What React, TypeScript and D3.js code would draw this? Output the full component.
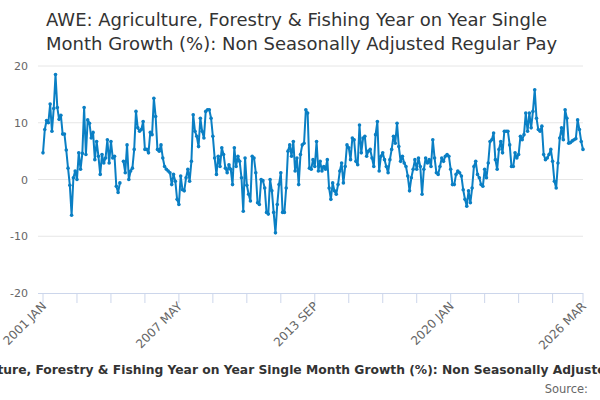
import { useEffect, useRef } from "react";
import * as d3 from "d3";

// Monthly values, Jan 2001 .. Mar 2026 (null = missing month)
const values2001_2004: (number | null)[] = [
  4.7, 8.8, 10.4, 10.0, 13.3, 8.5, 12.5, 18.5, 12.7, 10.6,
  11.3, 8.0, 8.0, 5.2, 2.0, -1.0, -6.3, 0.3, 1.5, 0.0,
  4.7, 1.8, 4.6, 12.7, 4.4, 10.5, 9.9, 7.3, 8.3, 3.5,
  6.7, 4.1, 0.9, 4.4, 2.9, 3.8, 7.0, 2.9,
];
const values2004_2007: (number | null)[] = [
  6.7, 3.8, 4.1, -1.2, -2.3, -0.6, null, 3.2, 1.2, 6.1,
  0.0, 1.5, 2.0, 5.3, 12.0, 9.1, 8.5, 8.8, 10.2, 5.3,
  5.3, 4.7, 8.3, 7.9, 14.3, 11.1, 5.3, 5.0, 6.1, 3.8,
  2.3, 1.8, 1.5, 1.2, -0.9, 0.9, -0.3, -3.5,
];
const values2007_2010: (number | null)[] = [
  -4.4, 0.6, -1.8, -2.0, 0.3, 1.8, -0.3, 3.2, 11.4, 8.5,
  7.6, 5.8, 10.8, 8.5, 7.3, 12.0, 12.3, 12.3, 10.8, 7.6,
  3.8, 0.9, 4.1, 2.3, 5.6, 4.4, 2.0, 1.2, 2.6, 1.8,
  -0.9, 5.6, 2.3, 4.1, 3.2, 0.3, -5.6, 3.8,
];
const values2010_2013: (number | null)[] = [
  -1.0, -2.6, -3.8, 4.1, 3.8, 1.2, -4.1, -4.4, 0.0, -0.2,
  -1.5, -5.8, -6.1, 0.0, -2.0, -5.8, -9.4, -4.4, -0.9, 1.2,
  -5.8, -5.8, -1.5, 5.0, 6.1, 4.1, 6.7, 1.5, 3.8, -0.9,
  4.4, 6.1, 6.4, 12.3, 11.7, 2.0, 1.8, 3.5,
];
const values2013_2016: (number | null)[] = [
  2.3, 6.7, 1.5, 3.2, 1.5, 2.3, 1.8, 3.5, -1.5, -3.5,
  -0.6, -2.0, -2.6, -0.9, 1.5, 2.9, -0.6, 2.3, 6.1, 5.6,
  3.5, 7.3, 7.0, 3.2, 2.6, 9.6, 4.7, 7.3, 7.6, 4.1,
  5.0, 5.3, 3.8, 2.3, 7.9, 10.2, 1.5,
];
const values2016_2019: (number | null)[] = [
  4.1, 4.7, 3.5, 2.3, 1.2, 3.5, 5.3, 7.6, 6.4, 9.9,
  5.8, 3.2, 4.1, 2.9, 2.3, 0.6, -2.0, 0.3, 1.8, 3.5,
  1.8, 3.8, 2.3, -2.6, 1.8, 3.8, 2.9, 3.5, 2.3, 7.0,
  3.8, 1.2, 0.9, 2.3, 3.8, 3.2, 4.1, 4.4,
];
const values2019_2023: (number | null)[] = [
  4.1, 1.8, -0.9, -0.9, 0.9, 1.5, 1.2, 0.6, -1.8, -3.5,
  -4.7, -2.0, -4.1, -1.5, 2.3, 3.2, 0.9, 0.3, -0.9, -1.2,
  1.8, 0.3, 2.9, 6.7, 7.0, 8.2, 3.5, 1.8, 5.3, 6.7,
  4.7, 8.5, 8.5, 8.5, 6.1, 2.3, 2.3, 4.7,
];
const values2023_2026: (number | null)[] = [
  3.8, 4.4, 7.6, 7.0, 7.9, 11.7, 8.5, 11.7, 9.1, 12.0,
  15.8, 10.8, 8.8, 8.5, 9.4, 4.4, 3.5, 3.8, 4.4, 5.3,
  3.2, -0.3, -1.5, 2.9, 7.3, 9.1, 7.0, 12.3, 10.8, 6.4,
  6.5, 6.8, 7.0, 7.2, 10.5, 8.8, 6.7, 5.3,
];

const values = [
  ...values2001_2004, ...values2004_2007, ...values2007_2010, ...values2010_2013,
  ...values2013_2016, ...values2016_2019, ...values2019_2023, ...values2023_2026,
];

const yTicks = [20, 10, 0, -10, -20];
// tick positions in months since Jan 2001 (every 19 months, plus the last month)
const xTickMonths = [0, 19, 38, 57, 76, 95, 114, 133, 152, 171, 190, 209, 228, 247, 266, 285, 302];
const xLabelMonths = [0, 76, 152, 228, 302];
const xLabels = ["2001 JAN", "2007 MAY", "2013 SEP", "2020 JAN", "2026 MAR"];

const title1 = "AWE: Agriculture, Forestry & Fishing Year on Year Single";
const title2 = "Month Growth (%): Non Seasonally Adjusted Regular Pay";
const caption = "AWE: Agriculture, Forestry & Fishing Year on Year Single Month Growth (%): Non Seasonally Adjusted Regular Pay";

export default function App() {
  const svgRef = useRef<SVGSVGElement>(null);

  useEffect(() => {
    if (!svgRef.current) return;
    const svg = d3.select(svgRef.current);
    svg.selectAll("*").remove();

    const width = 600;
    const height = 400;
    const left = 43, right = 583, top = 66, bottom = 293;

    const x = d3.scaleLinear().domain([0, values.length - 1]).range([left, right]);
    const y = d3.scaleLinear().domain([-20, 20]).range([bottom, top]);

    svg.attr("width", width).attr("height", height)
      .style("font-family", "'DejaVu Sans', sans-serif")
      .style("background", "#fff");

    // ── Title ──────────────────────────────────────────
    svg.append("text").attr("x", 46).attr("y", 26)
      .attr("font-size", 18).attr("fill", "#333").text(title1);
    svg.append("text").attr("x", 46).attr("y", 50)
      .attr("font-size", 18).attr("fill", "#333").text(title2);

    // ── Grid + y labels ─────────────────────────────────
    yTicks.forEach((t) => {
      if (t !== -20) {
        svg.append("line")
          .attr("x1", left - 5).attr("x2", right)
          .attr("y1", y(t)).attr("y2", y(t))
          .attr("stroke", "#e6e6e6").attr("stroke-width", 1);
      }
      svg.append("text")
        .attr("x", 28).attr("y", y(t) + 4)
        .attr("text-anchor", "end")
        .attr("font-size", 11).attr("fill", "#666")
        .text(t);
    });

    // ── X axis ──────────────────────────────────────────
    svg.append("line")
      .attr("x1", left - 5).attr("x2", right)
      .attr("y1", bottom + 0.5).attr("y2", bottom + 0.5)
      .attr("stroke", "#ccd6eb").attr("stroke-width", 1);

    xTickMonths.forEach((m) => {
      svg.append("line")
        .attr("x1", x(m)).attr("x2", x(m))
        .attr("y1", bottom).attr("y2", bottom + 10)
        .attr("stroke", "#ccd6eb").attr("stroke-width", 1);
    });

    xLabelMonths.forEach((m, i) => {
      svg.append("text")
        .attr("transform", `translate(${x(m) + 4},${bottom + 14}) rotate(-45)`)
        .attr("text-anchor", "end")
        .attr("font-size", 12).attr("fill", "#666")
        .text(xLabels[i]);
    });

    // ── Series ──────────────────────────────────────────
    const line = d3.line<number | null>()
      .defined((d) => d != null)
      .x((_, i) => x(i))
      .y((d) => y(d as number));

    svg.append("path")
      .datum(values)
      .attr("d", line)
      .attr("fill", "none")
      .attr("stroke", "#0a7fc4")
      .attr("stroke-width", 2)
      .attr("stroke-linejoin", "round");

    svg.append("g").selectAll("circle")
      .data(values.map((v, i) => ({ v, i })).filter((d) => d.v != null))
      .join("circle")
      .attr("cx", (d) => x(d.i))
      .attr("cy", (d) => y(d.v as number))
      .attr("r", 1.8)
      .attr("fill", "#0a7fc4");

    // ── Caption + source ───────────────────────────────
    svg.append("text").attr("x", 305).attr("y", 374)
      .attr("text-anchor", "middle")
      .attr("font-size", 12.3).attr("font-weight", "bold").attr("fill", "#333")
      .text(caption);
    svg.append("text").attr("x", 588).attr("y", 393)
      .attr("text-anchor", "end")
      .attr("font-size", 11.5).attr("fill", "#666")
      .text("Source: ");
  }, []);

  return (
    <svg ref={svgRef} style={{ position: "absolute", left: 0, top: 0, display: "block" }} />
  );
}
